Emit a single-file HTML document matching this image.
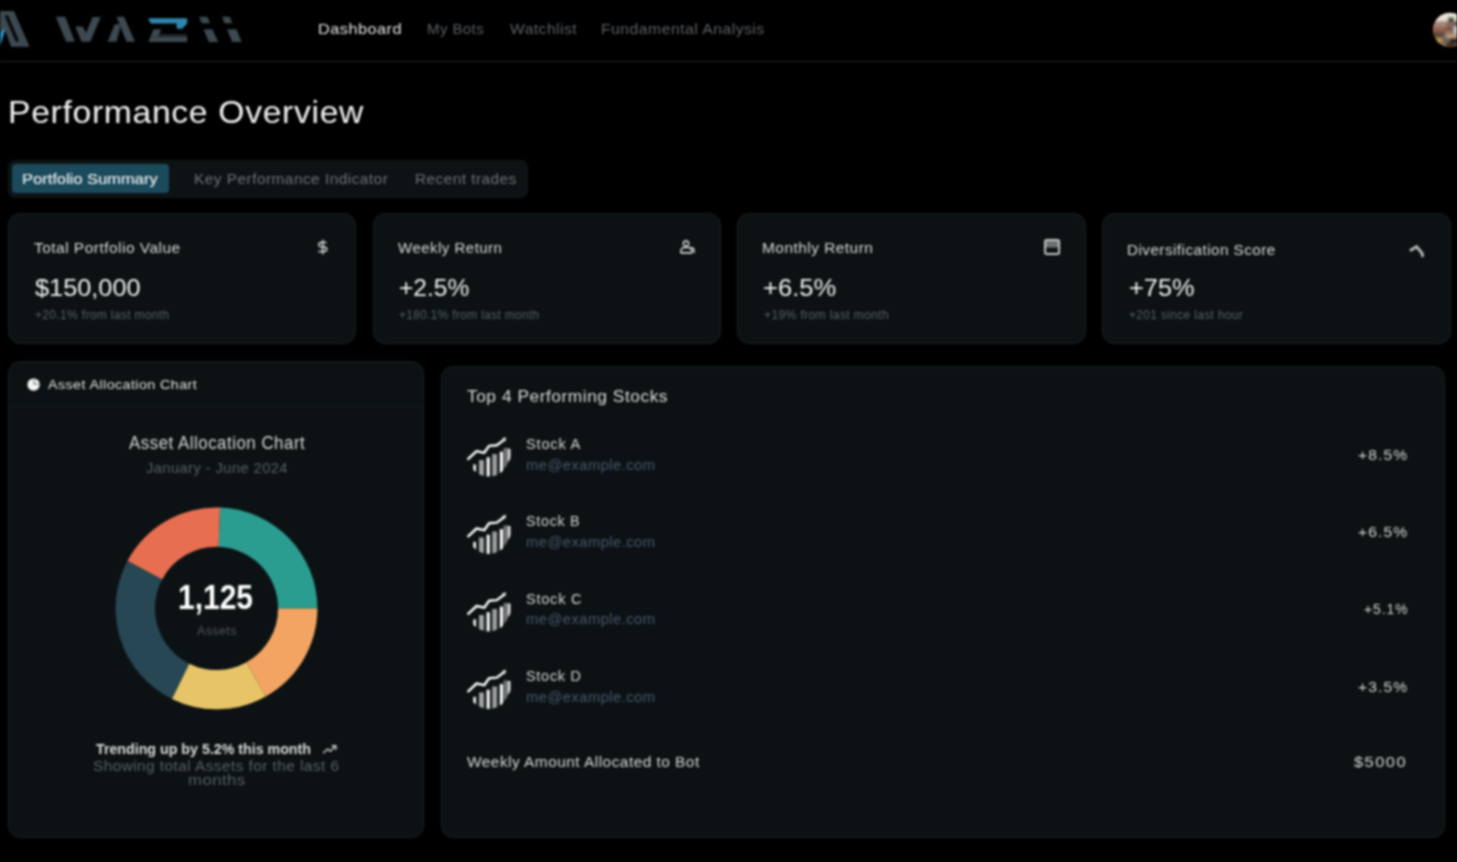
<!DOCTYPE html>
<html lang="en"><head><meta charset="utf-8"><title>Performance Overview</title>
<style>
html,body{margin:0;padding:0;background:#000;}
body{filter:blur(0.8px);width:1457px;height:862px;position:relative;overflow:hidden;font-family:"Liberation Sans",sans-serif;color:#fafafa;}
.t{position:absolute;white-space:pre;line-height:1;transform-origin:0 50%;font-weight:400;}
.med{text-shadow:0.25px 0 0 currentColor;}
.med2{text-shadow:0.5px 0 0 currentColor;}
.abs{position:absolute;}
.card{position:absolute;background:#0c1213;border:1px solid #1b1f1f;border-radius:12px;box-sizing:border-box;}
svg{position:absolute;overflow:visible;}

</style></head>
<body>
<!-- NAV -->
<header class="abs" style="left:0;top:0;width:1457px;height:61px;border-bottom:1px solid #242424;box-sizing:content-box"></header>
<svg id="logo" style="left:0;top:0" width="260" height="60" viewBox="0 0 260 60">
  <g fill="#3d4950">
    <polygon points="0,11 13.9,11 29.6,46.8 11,46.8 5.6,31.5 0,31"/>
    <polygon points="55.8,16.8 65.3,16.8 74.8,41.8 66.2,41.8"/>
    <polygon points="75.2,26.5 82.8,26.5 86.1,33 92.6,17 100.7,17 90.3,41.8 81.6,41.8"/>
    <polygon points="116.4,16.8 124,16.8 135,41.8 126.6,41.8"/>
    <polygon points="107.7,41.8 114.7,24.3 119.3,24.3 120.4,27 116.4,41.8"/>
    <polygon points="148.3,42 150.5,36.5 187.2,36.5 187.2,42"/>
    <polygon points="150.5,36.5 153.5,29.2 161.2,29.2 158.3,36.5"/>
    <polygon points="199,16.8 207.3,16.8 210.2,23.3 201.8,23.3"/>
    <polygon points="203.6,29.2 212.3,29.2 218.3,42 208.8,42"/>
    <polygon points="222,16.8 229.8,16.8 232.3,23.3 224.6,23.3"/>
    <polygon points="227,29.2 236.4,29.2 241.7,42 232.2,42"/>
  </g>
  <rect x="159" y="34" width="27.5" height="2.6" fill="#1f2629"/>
  <polygon points="4.6,15.5 8.2,15.5 19.2,41.6 15.6,41.6" fill="#05080a"/>
  <polygon points="0,32 5.8,28.3 2.2,40 0,46" fill="#2c88b6"/>
  <polygon points="148.3,18.2 187.2,18.2 187.2,23.5 182.2,28.8 176.6,28.8 176.6,23.6 150.6,23.6" fill="#2e86b0"/>
</svg>
<!-- avatar -->
<svg style="left:1432px;top:12px" width="25" height="36" viewBox="1432 12 25 36">
  <defs><clipPath id="avc"><circle cx="1450" cy="30" r="17.2"/></clipPath>
  <filter id="avb" x="-20%" y="-20%" width="140%" height="140%"><feGaussianBlur stdDeviation="1.1"/></filter></defs>
  <g clip-path="url(#avc)"><g filter="url(#avb)">
    <rect x="1430" y="10" width="30" height="40" fill="#7a5a48"/>
    <rect x="1430" y="10" width="30" height="11.5" fill="#e6e2d6"/>
    <rect x="1448" y="17.5" width="6" height="4.5" fill="#2a2622"/>
    <rect x="1430" y="21.5" width="16" height="5.5" fill="#a3847c"/>
    <rect x="1446" y="21.5" width="8" height="5" fill="#8a6a5e"/>
    <rect x="1454" y="21.5" width="4" height="5" fill="#4a4a4a"/>
    <rect x="1430" y="27" width="16" height="5" fill="#95604c"/>
    <rect x="1446" y="26.5" width="6.5" height="5" fill="#7d5444"/>
    <rect x="1452" y="26.5" width="3" height="8" fill="#727a8a"/>
    <rect x="1454.5" y="26" width="4" height="8.5" fill="#ead8c2"/>
    <rect x="1430" y="32" width="15" height="4" fill="#604634"/>
    <rect x="1446" y="31.5" width="6.5" height="3.5" fill="#a87a68"/>
    <rect x="1430" y="36" width="12" height="7" fill="#5c4628"/>
    <rect x="1443.5" y="34" width="4" height="3.5" fill="#6a7684"/>
    <rect x="1446.5" y="35" width="11" height="3" fill="#c8a478"/>
    <rect x="1436" y="38" width="6" height="4.5" fill="#bf9858"/>
    <rect x="1442" y="38" width="8" height="4.5" fill="#6e6258"/>
    <rect x="1450" y="38" width="8" height="5" fill="#1c1e2a"/>
    <rect x="1440.5" y="42.5" width="6" height="3" fill="#8c766a"/>
    <rect x="1446" y="42.5" width="9" height="5" fill="#3e2e1a"/>
  </g></g>
</svg>

<!-- TABS -->
<div class="abs" style="left:8px;top:160px;width:520px;height:37.5px;border-radius:7px;background:#0d1314"></div>
<div class="abs" style="left:12px;top:163.5px;width:157.3px;height:29px;border-radius:4px;background:#1b4a5c"></div>

<!-- TOP CARDS -->
<div class="card" style="left:8px;top:212.8px;width:348.3px;height:130.9px"></div>
<div class="card" style="left:372.6px;top:212.8px;width:348.2px;height:130.9px"></div>
<div class="card" style="left:737px;top:212.8px;width:348.5px;height:130.9px"></div>
<div class="card" style="left:1101.8px;top:212.8px;width:349px;height:130.9px"></div>

<!-- card icons -->
<svg style="left:314.6px;top:239.2px" width="15.6" height="16" viewBox="0 0 24 24" fill="none" stroke="#d4d7d8" stroke-width="2.3" stroke-linecap="round" stroke-linejoin="round"><line x1="12" x2="12" y1="1.5" y2="22.5"/><path d="M17 5H9.5a3.5 3.5 0 0 0 0 7h5a3.5 3.5 0 0 1 0 7H6"/></svg>
<svg style="left:678.8px;top:238.8px" width="16" height="16.4" viewBox="0 0 24 24" fill="none" stroke="#d4d7d8" stroke-width="2.4" stroke-linecap="round" stroke-linejoin="round"><circle cx="10.5" cy="6.5" r="4"/><path d="M3 20.5v-3a5 5 0 0 1 5-5h6a5 5 0 0 1 5 5v3Z"/><path d="M18 12.5a5 5 0 0 1 4.5 5v2"/></svg>
<svg style="left:1043.8px;top:239px" width="16.2" height="16" viewBox="0 0 16.2 16"><rect x="1.6" y="1.2" width="13" height="7.4" fill="#6c7172"/><rect x="1.1" y="1.1" width="14" height="13.8" rx="1.6" fill="none" stroke="#c4c7c8" stroke-width="2"/></svg>
<svg style="left:0;top:0" width="1457" height="862" viewBox="0 0 1457 862" fill="none" stroke="#b4b8b9" stroke-width="2.8" stroke-linejoin="miter" stroke-linecap="butt"><polyline points="1410,250.8 1416.6,246.6 1422.3,253.6 1422.5,257"/></svg>

<!-- LEFT CARD -->
<div class="card" style="left:8px;top:361px;width:415.6px;height:476.6px"></div>
<div class="abs" style="left:9px;top:406.3px;width:413.6px;height:1px;background:#10171a"></div>
<svg style="left:26.8px;top:378.3px" width="13.2" height="13.4" viewBox="0 0 24 24"><circle cx="12" cy="12" r="11.2" fill="#f6f6f6"/><path d="M13 3.5V11H21" fill="none" stroke="#8a8d8e" stroke-width="2.6"/></svg>
<svg id="donut" style="left:0;top:0" width="1457" height="862" viewBox="0 0 1457 862">
<path d="M317.40 608.40A100.9 100.9 0 0 0 220.02 507.56L218.65 546.84A61.6 61.6 0 0 1 278.10 608.40Z" fill="#2a9d90"/>
<path d="M220.02 507.56A100.9 100.9 0 0 0 127.41 561.03L162.11 579.48A61.6 61.6 0 0 1 218.65 546.84Z" fill="#e76e50"/>
<path d="M127.41 561.03A100.9 100.9 0 0 0 172.02 698.96L189.34 663.69A61.6 61.6 0 0 1 162.11 579.48Z" fill="#274754"/>
<path d="M172.02 698.96A100.9 100.9 0 0 0 265.73 696.48L246.55 662.17A61.6 61.6 0 0 1 189.34 663.69Z" fill="#e8c468"/>
<path d="M265.73 696.48A100.9 100.9 0 0 0 317.40 608.40L278.10 608.40A61.6 61.6 0 0 1 246.55 662.17Z" fill="#f4a462"/>
</svg>
<svg style="left:321.5px;top:744px" width="15.5" height="10.5" viewBox="0 0 24 18" fill="none" stroke="#d0d0d0" stroke-width="2.3" stroke-linecap="round" stroke-linejoin="round"><polyline points="1.5,15 8.5,8.5 13,12.5 22,3.5"/><polyline points="16,3 22.5,3 22.5,9.5"/></svg>

<!-- RIGHT CARD -->
<div class="card" style="left:440.6px;top:365.6px;width:1004.8px;height:472px"></div>
<svg style="left:0;top:0" width="1457" height="862" viewBox="0 0 1457 862"><defs><clipPath id="sc"><circle cx="20.9" cy="21" r="21"/></clipPath>
<g id="stk"><g clip-path="url(#sc)">
<rect x="5.5" y="30" width="2.7" height="20" fill="#f6f6f6"/>
<rect x="11.2" y="25.6" width="4.9" height="24" fill="#a2a2a2"/>
<rect x="18.8" y="22.8" width="3.2" height="24" fill="#fafafa"/>
<rect x="24.4" y="19.6" width="4.9" height="28" fill="#9c9c9c"/>
<rect x="32" y="17.2" width="3.2" height="30" fill="#fafafa"/>
</g>
<polygon points="35.8,13.6 40.2,13.6 40.2,27.5 38.4,31.8 35.8,34.5" fill="#767676"/>
<polygon points="40.3,14.2 42.6,14.2 42.6,23 41.6,26 40.3,27.5" fill="#f0f0f0"/>
<polyline points="0.4,24.4 8.8,16.6 16.4,18.3 21.3,11.4 29,10.7 36.2,5.4" fill="none" stroke="#ffffff" stroke-width="2.4" stroke-linejoin="round" stroke-linecap="round"/>
<polygon points="34.2,3.8 38.4,2.8 37.4,7.4" fill="#dcdcdc"/>
</g></defs>
<use href="#stk" x="467.8" y="434.5"/>
<use href="#stk" x="467.8" y="511.9"/>
<use href="#stk" x="467.8" y="589.4"/>
<use href="#stk" x="467.8" y="666.9"/>
</svg>

<span class="t" style="left:317.9px;top:22.3px;font-size:14.5px;color:#e6e6e6;letter-spacing:0.03em;transform:scaleX(1.1233)">Dashboard</span>
<span class="t" style="left:427.0px;top:22.3px;font-size:14.5px;color:#5c6064;letter-spacing:0.03em;transform:scaleX(1.0296)">My Bots</span>
<span class="t" style="left:509.5px;top:22.3px;font-size:14.5px;color:#5c6064;letter-spacing:0.03em;transform:scaleX(1.0774)">Watchlist</span>
<span class="t" style="left:600.9px;top:22.3px;font-size:14.5px;color:#5c6064;letter-spacing:0.03em;transform:scaleX(1.0872)">Fundamental Analysis</span>
<span class="t" style="left:8.4px;top:96.5px;font-size:31.5px;color:#f4f4f4;letter-spacing:0.02em;transform:scaleX(1.0695)">Performance Overview</span>
<span class="t med" style="left:22.4px;top:170.6px;font-size:15.3px;color:#dde2e4;letter-spacing:0.0em;transform:scaleX(1.0760)">Portfolio Summary</span>
<span class="t" style="left:194.0px;top:170.8px;font-size:15px;color:#6e7276;letter-spacing:0.03em;transform:scaleX(1.0287)">Key Performance Indicator</span>
<span class="t" style="left:414.5px;top:170.8px;font-size:15px;color:#6e7276;letter-spacing:0.03em;transform:scaleX(1.0255)">Recent trades</span>
<span class="t" style="left:33.5px;top:240.9px;font-size:14.5px;color:#dadada;letter-spacing:0.03em;transform:scaleX(1.0699)">Total Portfolio Value</span>
<span class="t" style="left:34.8px;top:275.9px;font-size:24.5px;color:#f2f2f2;letter-spacing:0.0em;transform:scaleX(1.0333)">$150,000</span>
<span class="t" style="left:34.6px;top:309.2px;font-size:12.3px;color:#596063;letter-spacing:0.03em;transform:scaleX(0.9732)">+20.1% from last month</span>
<span class="t" style="left:398.3px;top:240.9px;font-size:14.5px;color:#dadada;letter-spacing:0.03em;transform:scaleX(1.0390)">Weekly Return</span>
<span class="t" style="left:399.0px;top:275.9px;font-size:24.5px;color:#f2f2f2;letter-spacing:0.0em;transform:scaleX(1.0029)">+2.5%</span>
<span class="t" style="left:399.0px;top:309.2px;font-size:12.3px;color:#596063;letter-spacing:0.03em;transform:scaleX(0.9655)">+180.1% from last month</span>
<span class="t" style="left:761.9px;top:240.9px;font-size:14.5px;color:#dadada;letter-spacing:0.03em;transform:scaleX(1.0660)">Monthly Return</span>
<span class="t" style="left:763.2px;top:275.9px;font-size:24.5px;color:#f2f2f2;letter-spacing:0.0em;transform:scaleX(1.0435)">+6.5%</span>
<span class="t" style="left:764.0px;top:309.2px;font-size:12.3px;color:#596063;letter-spacing:0.03em;transform:scaleX(0.9827)">+19% from last month</span>
<span class="t" style="left:1126.9px;top:242.7px;font-size:14.5px;color:#dadada;letter-spacing:0.03em;transform:scaleX(1.0529)">Diversification Score</span>
<span class="t" style="left:1128.5px;top:275.9px;font-size:24.5px;color:#f2f2f2;letter-spacing:0.0em;transform:scaleX(1.0355)">+75%</span>
<span class="t" style="left:1128.8px;top:309.2px;font-size:12.3px;color:#596063;letter-spacing:0.03em;transform:scaleX(0.9695)">+201 since last hour</span>
<span class="t" style="left:48.3px;top:377.7px;font-size:13.6px;color:#e4e4e4;letter-spacing:0.03em;transform:scaleX(1.0507)">Asset Allocation Chart</span>
<span class="t" style="left:129.3px;top:434.8px;font-size:17.6px;color:#d8d8d8;letter-spacing:0.03em;transform:scaleX(0.9590)">Asset Allocation Chart</span>
<span class="t" style="left:145.8px;top:460.8px;font-size:14.3px;color:#596063;letter-spacing:0.03em;transform:scaleX(1.0246)">January - June 2024</span>
<span class="t" style="left:177.8px;top:579.8px;font-size:34.5px;color:#ffffff;letter-spacing:0.0em;transform:scaleX(0.8690);font-weight:700">1,125</span>
<span class="t" style="left:196.8px;top:624.7px;font-size:12.6px;color:#50575a;letter-spacing:0.03em;transform:scaleX(0.9925)">Assets</span>
<span class="t" style="left:96.3px;top:741.8px;font-size:14.3px;color:#dcdcdc;letter-spacing:0.0em;transform:scaleX(0.9949);font-weight:700">Trending up by 5.2% this month</span>
<span class="t" style="left:93.2px;top:759.1px;font-size:14.3px;color:#596063;letter-spacing:0.03em;transform:scaleX(1.0732)">Showing total Assets for the last 6</span>
<span class="t" style="left:187.8px;top:773.1px;font-size:14.3px;color:#596063;letter-spacing:0.03em;transform:scaleX(1.1667)">months</span>
<span class="t" style="left:466.8px;top:388.1px;font-size:16.3px;color:#dcdcdc;letter-spacing:0.03em;transform:scaleX(1.0660)">Top 4 Performing Stocks</span>
<span class="t" style="left:526.0px;top:435.8px;font-size:15px;color:#d8d8d8;letter-spacing:0.05em;transform:scaleX(0.9818)">Stock A</span>
<span class="t" style="left:526.0px;top:457.7px;font-size:14.3px;color:#475770;letter-spacing:0.03em;transform:scaleX(1.0325)">me@example.com</span>
<span class="t" style="left:1358.0px;top:447.6px;font-size:14.8px;color:#d6d6d6;letter-spacing:0.07em;transform:scaleX(1.0543)">+8.5%</span>
<span class="t" style="left:526.0px;top:513.2px;font-size:15px;color:#d8d8d8;letter-spacing:0.05em;transform:scaleX(0.9545)">Stock B</span>
<span class="t" style="left:526.0px;top:535.0px;font-size:14.3px;color:#475770;letter-spacing:0.03em;transform:scaleX(1.0325)">me@example.com</span>
<span class="t" style="left:1358.0px;top:524.9px;font-size:14.8px;color:#d6d6d6;letter-spacing:0.07em;transform:scaleX(1.0543)">+6.5%</span>
<span class="t" style="left:526.0px;top:590.5px;font-size:15px;color:#d8d8d8;letter-spacing:0.05em;transform:scaleX(0.9732)">Stock C</span>
<span class="t" style="left:526.0px;top:612.4px;font-size:14.3px;color:#475770;letter-spacing:0.03em;transform:scaleX(1.0325)">me@example.com</span>
<span class="t" style="left:1363.5px;top:602.3px;font-size:14.8px;color:#d6d6d6;letter-spacing:0.07em;transform:scaleX(0.9348)">+5.1%</span>
<span class="t" style="left:526.0px;top:667.9px;font-size:15px;color:#d8d8d8;letter-spacing:0.05em;transform:scaleX(0.9643)">Stock D</span>
<span class="t" style="left:526.0px;top:689.7px;font-size:14.3px;color:#475770;letter-spacing:0.03em;transform:scaleX(1.0325)">me@example.com</span>
<span class="t" style="left:1358.0px;top:679.6px;font-size:14.8px;color:#d6d6d6;letter-spacing:0.07em;transform:scaleX(1.0543)">+3.5%</span>
<span class="t" style="left:467.2px;top:753.6px;font-size:15.2px;color:#d8d8d8;letter-spacing:0.03em;transform:scaleX(1.0175)">Weekly Amount Allocated to Bot</span>
<span class="t" style="left:1354.0px;top:753.8px;font-size:15px;color:#d6d6d6;letter-spacing:0.09em;transform:scaleX(1.0957)">$5000</span>

</body></html>
